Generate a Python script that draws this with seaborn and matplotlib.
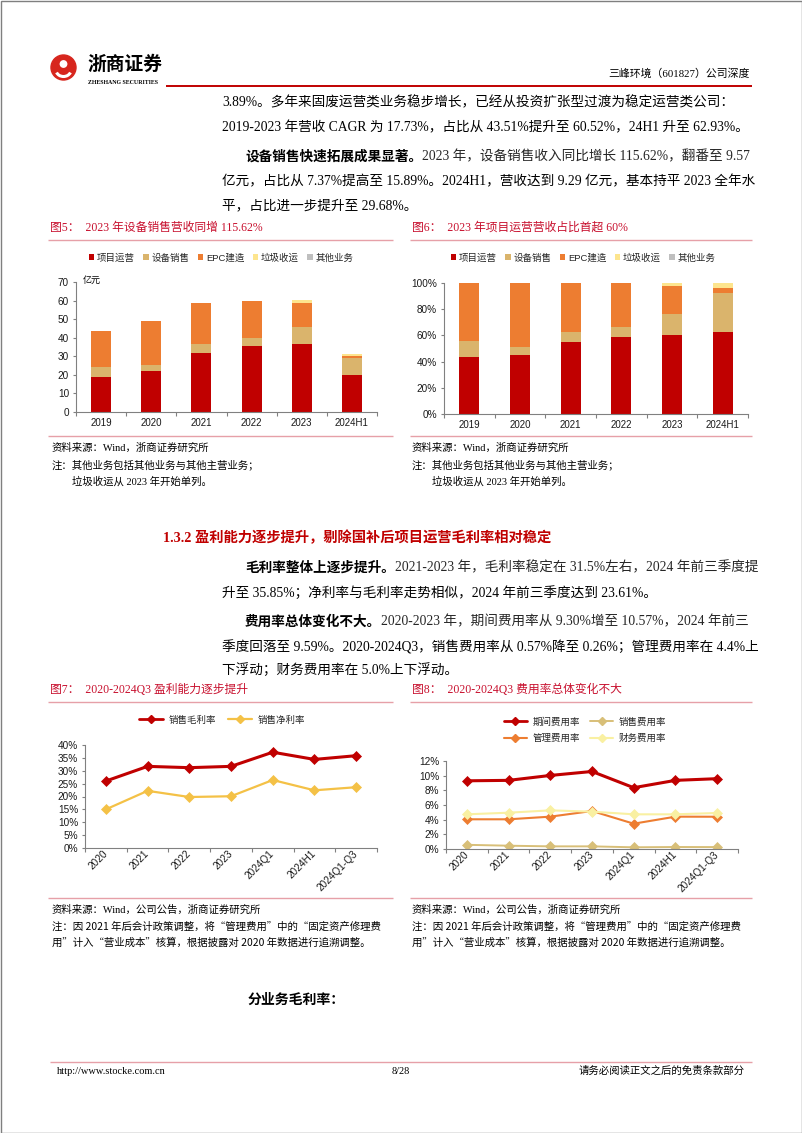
import numpy as np
import pandas as pd
import seaborn as sns
import matplotlib.pyplot as plt
from matplotlib.lines import Line2D
from matplotlib.patches import Patch, Circle, Arc
from matplotlib.ticker import PercentFormatter, FixedLocator

W, H = 802, 1133

# ---- data ----
years = ['2019', '2020', '2021', '2022', '2023', '2024H1']
rev_ops = [18.9, 22.1, 32.0, 35.4, 36.4, 19.7]
rev_equip = [5.2, 3.4, 4.4, 4.4, 9.57, 9.29]
rev_epc = [19.3, 23.5, 22.1, 20.2, 12.7, 1.1]
rev_waste = [0, 0, 0, 0, 1.5, 1.2]
rev_other = [0, 0, 0, 0, 0, 0]

pct_ops = [43.5, 45.0, 54.7, 58.8, 60.5, 62.9]
pct_equip = [12.5, 6.1, 7.6, 7.4, 15.9, 29.7]
pct_epc = [44.0, 48.9, 37.7, 33.8, 21.3, 3.8]
pct_waste = [0, 0, 0, 0, 2.3, 3.6]
pct_other = [0, 0, 0, 0, 0, 0]

seg_names = ['项目运营', '设备销售', 'EPC建造', '垃圾收运', '其他业务']

periods = ['2020', '2021', '2022', '2023', '2024Q1', '2024H1', '2024Q1-Q3']
gross_margin = [26.0, 31.7, 31.2, 31.7, 37.2, 34.4, 35.85]
net_margin = [15.0, 22.2, 19.8, 20.1, 26.4, 22.4, 23.61]

period_exp = [9.30, 9.36, 10.03, 10.57, 8.36, 9.36, 9.59]
sales_exp = [0.57, 0.45, 0.36, 0.36, 0.23, 0.27, 0.26]
admin_exp = [4.05, 4.05, 4.41, 5.18, 3.45, 4.41, 4.40]
fin_exp = [4.73, 4.95, 5.27, 5.09, 4.73, 4.73, 4.91]

RED = '#C00000'
TAN = '#DAB46C'
ORANGE = '#ED7D31'
YELLOW = '#FDE58E'
GRAY = '#BFBFBF'
GOLD = '#F4C146'
PALE = '#F9F0A2'
SAND = '#D8BF78'
PINK = '#E6A0A8'
TITLE_RED = '#C8102E'
AXC = '#808080'

seg_colors = [RED, TAN, ORANGE, YELLOW, GRAY]

sns.set_style('ticks')
plt.rcParams['font.family'] = ['Liberation Sans', 'Noto Sans CJK SC']
SERIF = ['Liberation Serif', 'Noto Sans CJK SC']
CJK_FIRST = ['Noto Sans CJK SC', 'Liberation Serif']
BODY = 9.8

fig = plt.figure(figsize=(W / 100, H / 100), dpi=100)
bg = fig.add_axes([0, 0, 1, 1])
bg.set_xlim(0, W)
bg.set_ylim(H, 0)
bg.axis('off')


def px_axes(x0, y0, x1, y1):
    return fig.add_axes([x0 / W, 1 - y1 / H, (x1 - x0) / W, (y1 - y0) / H])


def txt(x, y, s, size=BODY, color='black', bold=False, ha='left', family=SERIF):
    return bg.text(x, y, s, fontsize=size, color=color, ha=ha, va='center',
                   family=family, fontweight='bold' if bold else 'normal')


def lead_line(x, y, s_bold, s_rest, size=BODY):
    t1 = txt(x, y, s_bold, size=size, bold=True)
    bg.annotate(s_rest, xy=(1, 0.5), xycoords=t1, va='center', ha='left',
                fontsize=size, family=SERIF)


def hline(x0, x1, y, color=PINK, lw=1.0):
    bg.plot([x0, x1], [y, y], color=color, lw=lw, solid_capstyle='butt')


def style_axes(ax, n):
    sns.despine(ax=ax)
    for s in ['left', 'bottom']:
        ax.spines[s].set_color(AXC)
        ax.spines[s].set_linewidth(0.8)
    ax.set_xlim(-0.5, n - 0.5)
    ax.xaxis.set_minor_locator(FixedLocator(np.arange(n + 1) - 0.5))
    ax.tick_params(axis='x', which='major', length=0, labelsize=7, pad=4.5, colors='#1a1a1a')
    ax.tick_params(axis='x', which='minor', length=3, color=AXC, width=0.8)
    ax.tick_params(axis='y', length=2.5, width=0.8, labelsize=7.2, pad=2.5, colors='#1a1a1a')
    ax.tick_params(axis='y', color=AXC)
    ax.set_xlabel('')
    ax.set_ylabel('')
    ax.patch.set_alpha(0)


def stacked_bars(ax, cats, layers, colors):
    bottom = np.zeros(len(cats))
    for vals, c in zip(layers, colors):
        sns.barplot(x=cats, y=vals, order=cats, color=c, saturation=1, width=0.4,
                    bottom=bottom, linewidth=0, ax=ax)
        bottom = bottom + np.array(vals, dtype=float)


# ---- page frame, header ----
bg.add_patch(plt.Rectangle((0.5, 0.5), W - 1, H - 1, fill=False, ec='#7f7f7f', lw=1))
bg.add_patch(Circle((63.5, 67.5), 12.5, color='#D7261E'))
bg.add_patch(Arc((63.5, 70), 15, 13, theta1=20, theta2=160, color='white', lw=2.2))
bg.add_patch(Circle((63.5, 64), 3.2, color='white'))
txt(87, 64, '浙商证券', size=13.5, bold=True, family=['Noto Sans CJK SC'])
txt(88, 82, 'ZHESHANG SECURITIES', size=4.2, bold=True, family=['Liberation Serif'])
txt(750, 73, '三峰环境（601827）公司深度', size=7.8, ha='right')
hline(166, 752, 86, color=RED, lw=1.4)

# ---- body text, top ----
txt(222, 103, '3.89%。多年来固废运营类业务稳步增长，已经从投资扩张型过渡为稳定运营类公司：')
txt(222, 128, '2019-2023 年营收 CAGR 为 17.73%，占比从 43.51%提升至 60.52%，24H1 升至 62.93%。')
lead_line(245, 157, '设备销售快速拓展成果显著。', '2023 年，设备销售收入同比增长 115.62%，翻番至 9.57')
txt(222, 182, '亿元，占比从 7.37%提高至 15.89%。2024H1，营收达到 9.29 亿元，基本持平 2023 全年水')
txt(222, 206, '平，占比进一步提升至 29.68%。')

# ---- figure 5 / 6 frames ----
txt(50, 228, '图5：  2023 年设备销售营收同增 115.62%', size=8.5, color=TITLE_RED)
txt(412, 228, '图6：  2023 年项目运营营收占比首超 60%', size=8.5, color=TITLE_RED)
hline(48, 393, 240)
hline(410, 752, 240)
hline(48, 393, 436)
hline(410, 752, 436)
for x0 in (52, 412):
    txt(x0, 448, '资料来源：Wind，浙商证券研究所', size=7.5)
    txt(x0, 465, '注：其他业务包括其他业务与其他主营业务；', size=7.5)
    txt(x0 + 20, 481, '垃圾收运从 2023 年开始单列。', size=7.5)

seg_handles = [Patch(facecolor=c, edgecolor='none') for c in seg_colors]
for cx in (221, 583):
    fig.legend(seg_handles, seg_names, loc='center', bbox_to_anchor=(cx, 258),
               bbox_transform=bg.transData, ncol=5, frameon=False, fontsize=6.8,
               handlelength=0.6, handleheight=0.6, handletextpad=0.25, columnspacing=0.9)

# chart 5: revenue by segment
ax1 = px_axes(76, 282, 377, 412)
stacked_bars(ax1, years, [rev_ops, rev_equip, rev_epc, rev_waste, rev_other], seg_colors)
ax1.set_ylim(0, 70)
ax1.set_yticks(range(0, 71, 10))
style_axes(ax1, len(years))
txt(83, 280, '亿元', size=6.5)

# chart 6: revenue share
ax2 = px_axes(444, 283, 748, 414)
stacked_bars(ax2, years, [pct_ops, pct_equip, pct_epc, pct_waste, pct_other], seg_colors)
ax2.set_ylim(0, 100)
ax2.set_yticks(range(0, 101, 20))
ax2.yaxis.set_major_formatter(PercentFormatter(100, decimals=0))
style_axes(ax2, len(years))

# ---- middle text ----
txt(163, 538, '1.3.2 盈利能力逐步提升，剔除国补后项目运营毛利率相对稳定', size=10.3, color=RED, bold=True)
lead_line(245, 568, '毛利率整体上逐步提升。', '2021-2023 年，毛利率稳定在 31.5%左右，2024 年前三季度提')
txt(222, 593, '升至 35.85%；净利率与毛利率走势相似，2024 年前三季度达到 23.61%。')
lead_line(245, 622, '费用率总体变化不大。', '2020-2023 年，期间费用率从 9.30%增至 10.57%，2024 年前三')
txt(222, 647, '季度回落至 9.59%。2020-2024Q3，销售费用率从 0.57%降至 0.26%；管理费用率在 4.4%上')
txt(222, 670, '下浮动；财务费用率在 5.0%上下浮动。')

# ---- figure 7 / 8 frames ----
txt(50, 690, '图7：  2020-2024Q3 盈利能力逐步提升', size=8.5, color=TITLE_RED)
txt(412, 690, '图8：  2020-2024Q3 费用率总体变化不大', size=8.5, color=TITLE_RED)
hline(48, 393, 702)
hline(410, 752, 702)
hline(48, 393, 898)
hline(410, 752, 898)
for x0 in (52, 412):
    txt(x0, 910, '资料来源：Wind，公司公告，浙商证券研究所', size=7.5)
    txt(x0, 927, '注：因 2021 年后会计政策调整，将“管理费用”中的“固定资产修理费', size=7.5, family=CJK_FIRST)
    txt(x0, 943, '用”计入“营业成本”核算，根据披露对 2020 年数据进行追溯调整。', size=7.5, family=CJK_FIRST)


def line_series(ax, vals, color, lw, ms):
    sns.lineplot(x=periods, y=vals, color=color, linewidth=lw, marker='D', markersize=ms,
                 markeredgecolor=color, markeredgewidth=0.5, sort=False, ax=ax)


def rotate_labels(ax):
    ax.set_xticks(range(len(periods)))
    ax.set_xticklabels(periods)
    ax.tick_params(axis='x', which='major', pad=3, labelsize=7.2)
    plt.setp(ax.get_xticklabels(), rotation=45, ha='right', va='center', rotation_mode='anchor')


# chart 7: margins
ax3 = px_axes(85, 745, 377, 848)
line_series(ax3, gross_margin, RED, 2.2, 5.5)
line_series(ax3, net_margin, GOLD, 1.6, 5)
ax3.set_ylim(0, 40)
ax3.set_yticks(range(0, 41, 5))
ax3.yaxis.set_major_formatter(PercentFormatter(100, decimals=0))
style_axes(ax3, len(periods))
rotate_labels(ax3)

m_handles = [Line2D([], [], color=RED, lw=2.0, marker='D', ms=4.5, mec=RED),
             Line2D([], [], color=GOLD, lw=1.6, marker='D', ms=4.5, mec=GOLD)]
fig.legend(m_handles, ['销售毛利率', '销售净利率'], loc='center', bbox_to_anchor=(222, 720),
           bbox_transform=bg.transData, ncol=2, frameon=False, fontsize=6.8,
           handlelength=2.5, handletextpad=0.6, columnspacing=1.3)

# chart 8: expense ratios
ax4 = px_axes(446, 761, 738, 849)
line_series(ax4, period_exp, RED, 2.2, 5.5)
line_series(ax4, sales_exp, SAND, 1.4, 5.5)
line_series(ax4, admin_exp, ORANGE, 1.5, 5.5)
line_series(ax4, fin_exp, PALE, 1.5, 5.5)
ax4.set_ylim(0, 12)
ax4.set_yticks(range(0, 13, 2))
ax4.yaxis.set_major_formatter(PercentFormatter(100, decimals=0))
style_axes(ax4, len(periods))
rotate_labels(ax4)

e_handles = [Line2D([], [], color=RED, lw=2.0, marker='D', ms=4.5, mec=RED),
             Line2D([], [], color=ORANGE, lw=1.5, marker='D', ms=4.5, mec=ORANGE),
             Line2D([], [], color=SAND, lw=1.4, marker='D', ms=4.5, mec=SAND),
             Line2D([], [], color=PALE, lw=1.5, marker='D', ms=4.5, mec=PALE)]
fig.legend(e_handles, ['期间费用率', '管理费用率', '销售费用率', '财务费用率'], loc='center',
           bbox_to_anchor=(585, 730), bbox_transform=bg.transData, ncol=2, frameon=False,
           fontsize=6.8, handlelength=2.5, handletextpad=0.6, columnspacing=1.0, labelspacing=0.75)

# ---- bottom ----
txt(248, 1000, '分业务毛利率：', size=10, bold=True)
hline(50, 752, 1062)
txt(57, 1071, 'http://www.stocke.com.cn', size=7.5)
txt(401, 1071, '8/28', size=7.5, ha='center')
txt(745, 1071, '请务必阅读正文之后的免责条款部分', size=7.5, ha='right')

fig.savefig('out.png', dpi=100)
